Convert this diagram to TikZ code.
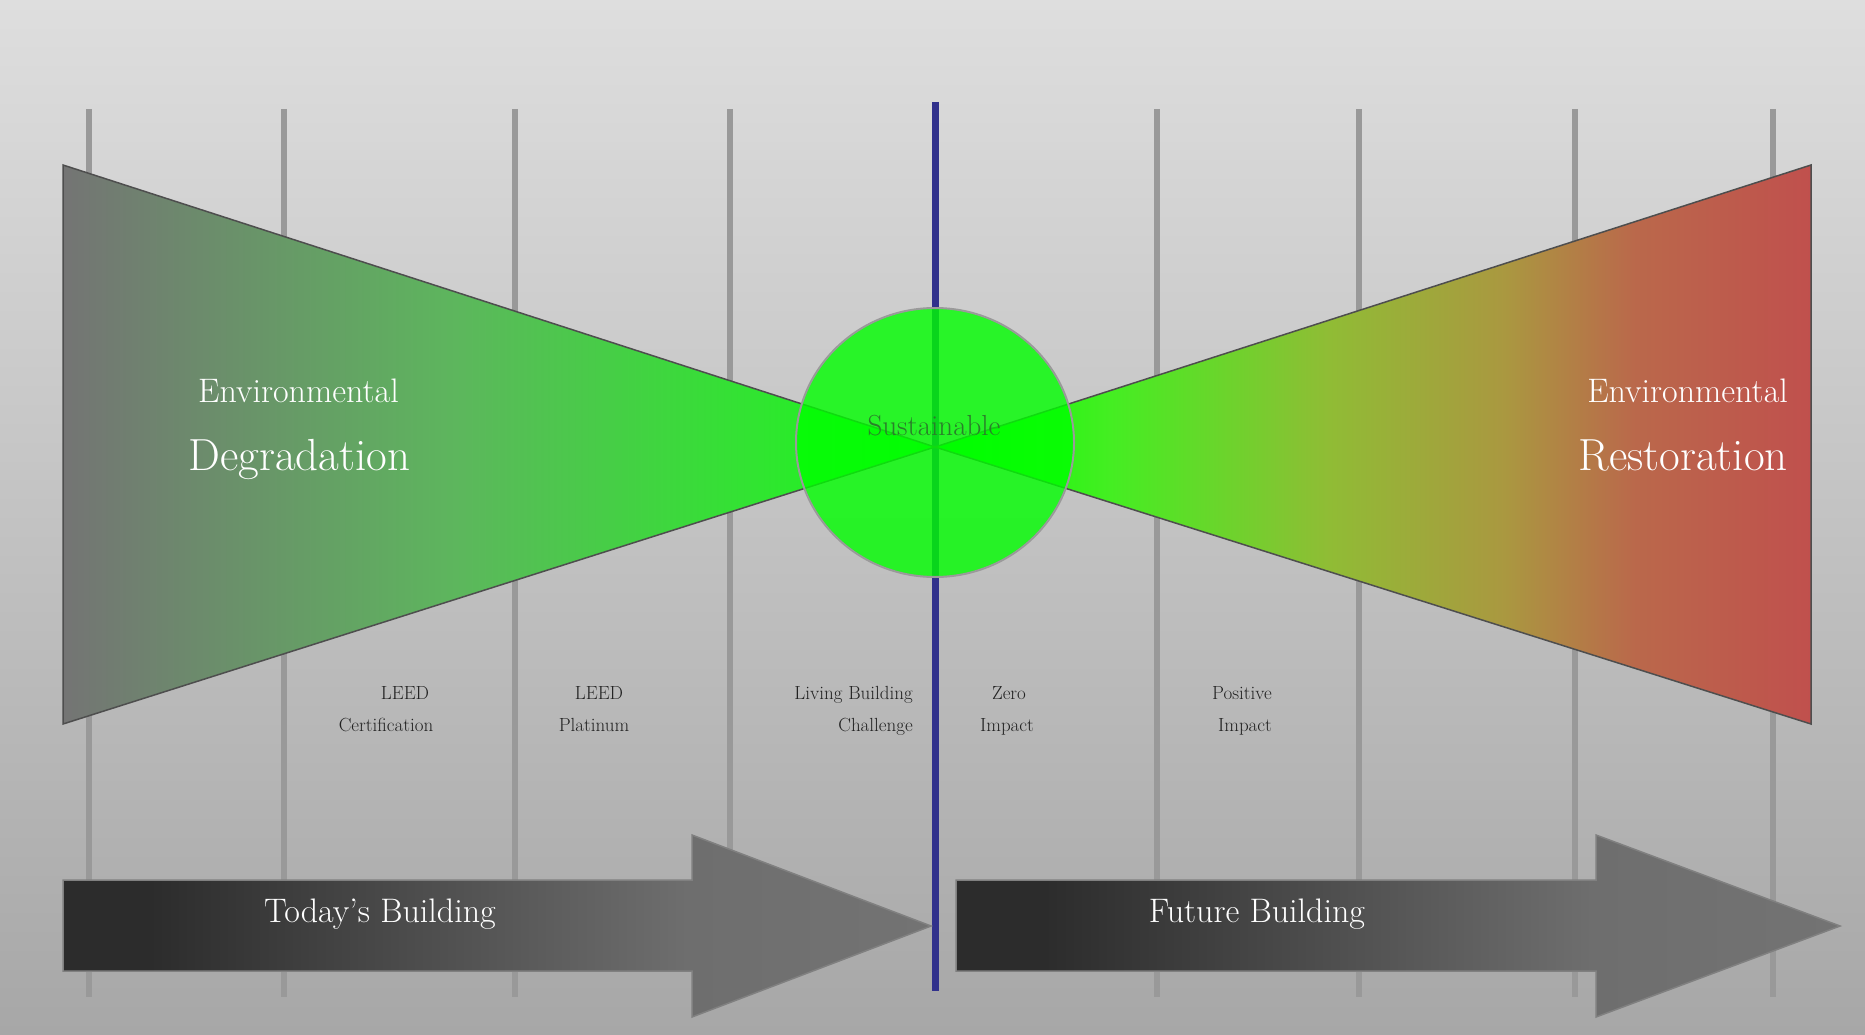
\documentclass[tikz,border=0pt]{standalone}
\usepackage{fontspec}
\definecolor{bgtop}{HTML}{DEDEDE}
\definecolor{bgbot}{HTML}{A7A7A7}
\definecolor{gridc}{HTML}{999999}
\definecolor{bluel}{HTML}{31318C}
\definecolor{triedge}{HTML}{4E4E4E}
\definecolor{bl0}{HTML}{747474}
\definecolor{bl1}{HTML}{5DB65D}
\definecolor{bl2}{HTML}{30E530}
\definecolor{bl3}{HTML}{10FF10}
\definecolor{br0}{HTML}{00FF00}
\definecolor{br1}{HTML}{44EE22}
\definecolor{br2}{HTML}{90BC35}
\definecolor{br3}{HTML}{AA9840}
\definecolor{br4}{HTML}{BA684B}
\definecolor{br5}{HTML}{C0504D}
\definecolor{ar0}{HTML}{2C2C2C}
\definecolor{ar1}{HTML}{6E6E6E}
\definecolor{ar2}{HTML}{737373}
\definecolor{arredge}{HTML}{808080}
\definecolor{circedge}{HTML}{9A9A9A}
\definecolor{sustc}{HTML}{2A7F2A}
\definecolor{labc}{HTML}{222222}
\pgfdeclarehorizontalshading{bowleft}{100bp}{color(0bp)=(bl0); color(25bp)=(bl0); color(47.5bp)=(bl1); color(65bp)=(bl2); color(75bp)=(bl3); color(100bp)=(bl3)}
\pgfdeclarehorizontalshading{bowright}{100bp}{color(0bp)=(br0); color(25bp)=(br0); color(35bp)=(br1); color(47.5bp)=(br2); color(57.5bp)=(br3); color(65bp)=(br4); color(75bp)=(br5); color(100bp)=(br5)}
\pgfdeclarehorizontalshading{arrshade}{100bp}{color(0bp)=(ar0); color(25bp)=(ar0); color(30bp)=(ar0); color(61bp)=(ar1); color(75bp)=(ar2); color(100bp)=(ar2)}
\tikzset{
  gridline/.style={draw=gridc, line width=6},
  centreline/.style={draw=bluel, line width=7},
  bowtie/.style={draw=triedge, line width=1.5, line join=miter},
  arrowshape/.style={shading=arrshade, draw=arredge, line width=1.5},
  hub/.style={fill=br0, fill opacity=0.8, draw=circedge, line width=2},
  bigtxt/.style={text=white, inner sep=0, font=\fontsize{45}{52}\selectfont},
  midtxt/.style={text=white, inner sep=0, font=\fontsize{34}{40}\selectfont},
  arrtxt/.style={text=white, inner sep=0, font=\fontsize{34}{40}\selectfont},
  labtxt/.style={text=labc, inner sep=0, font=\fontsize{19}{22}\selectfont},
  susttxt/.style={text=sustc, inner sep=0, font=\fontsize{29}{34}\selectfont}
}
\begin{document}
\begin{tikzpicture}[x=1pt,y=-1pt]
\useasboundingbox (0,0) rectangle (1865,1035);
\shade[top color=bgtop, bottom color=bgbot] (0,0) rectangle (1865,1035);
% vertical guide lines
\foreach \gx in {89,284,515,730,1157,1359,1575,1773}
  \draw[gridline] (\gx,109) -- (\gx,997);
% centre line
\coordinate (ctop) at (935,102);
\coordinate (cbot) at (935,991);
\draw[centreline] (ctop) -- (cbot);
% bow tie
\coordinate (apex) at (935,447);
\shade[bowtie, shading=bowleft] (63,165) -- (apex) -- (63,724) -- cycle;
\shade[bowtie, shading=bowright] (1811,165) -- (apex) -- (1811,724) -- cycle;
% hub
\draw[hub] (935,442.5) ellipse [x radius=139, y radius=134.5];
\node[susttxt, anchor=base] (sust) at (934,435) {Sustainable};
% big labels
\node[midtxt, anchor=base] (envl) at (298.5,402) {Environmental};
\node[bigtxt, anchor=base] (degr) at (299.5,470) {Degradation};
\node[midtxt, anchor=base east] (envr) at (1788,402) {Environmental};
\node[bigtxt, anchor=base east] (rest) at (1788,470) {Restoration};
% small labels
\node[labtxt, anchor=base] (l1a) at (405,699) {LEED};
\node[labtxt, anchor=base] (l1b) at (386,731) {Certification};
\node[labtxt, anchor=base] (l2a) at (599,699) {LEED};
\node[labtxt, anchor=base] (l2b) at (594,731) {Platinum};
\node[labtxt, anchor=base east] (l3a) at (913,699) {Living Building};
\node[labtxt, anchor=base east] (l3b) at (913,731) {Challenge};
\node[labtxt, anchor=base] (l4a) at (1009,699) {Zero};
\node[labtxt, anchor=base] (l4b) at (1007,731) {Impact};
\node[labtxt, anchor=base] (l5a) at (1242,699) {Positive};
\node[labtxt, anchor=base] (l5b) at (1245,731) {Impact};
% bottom arrows
\shade[arrowshape] (63,880) -- (692,880) -- (692,835) -- (931,926) -- (692,1017) -- (692,971) -- (63,971) -- cycle;
\shade[arrowshape] (956,880) -- (1596,880) -- (1596,835) -- (1840,926) -- (1596,1017) -- (1596,971) -- (956,971) -- cycle;
\node[arrtxt, anchor=base] (today) at (380,922) {Today’s Building};
\node[arrtxt, anchor=base] (future) at (1257,922) {Future Building};
\end{tikzpicture}
\end{document}
